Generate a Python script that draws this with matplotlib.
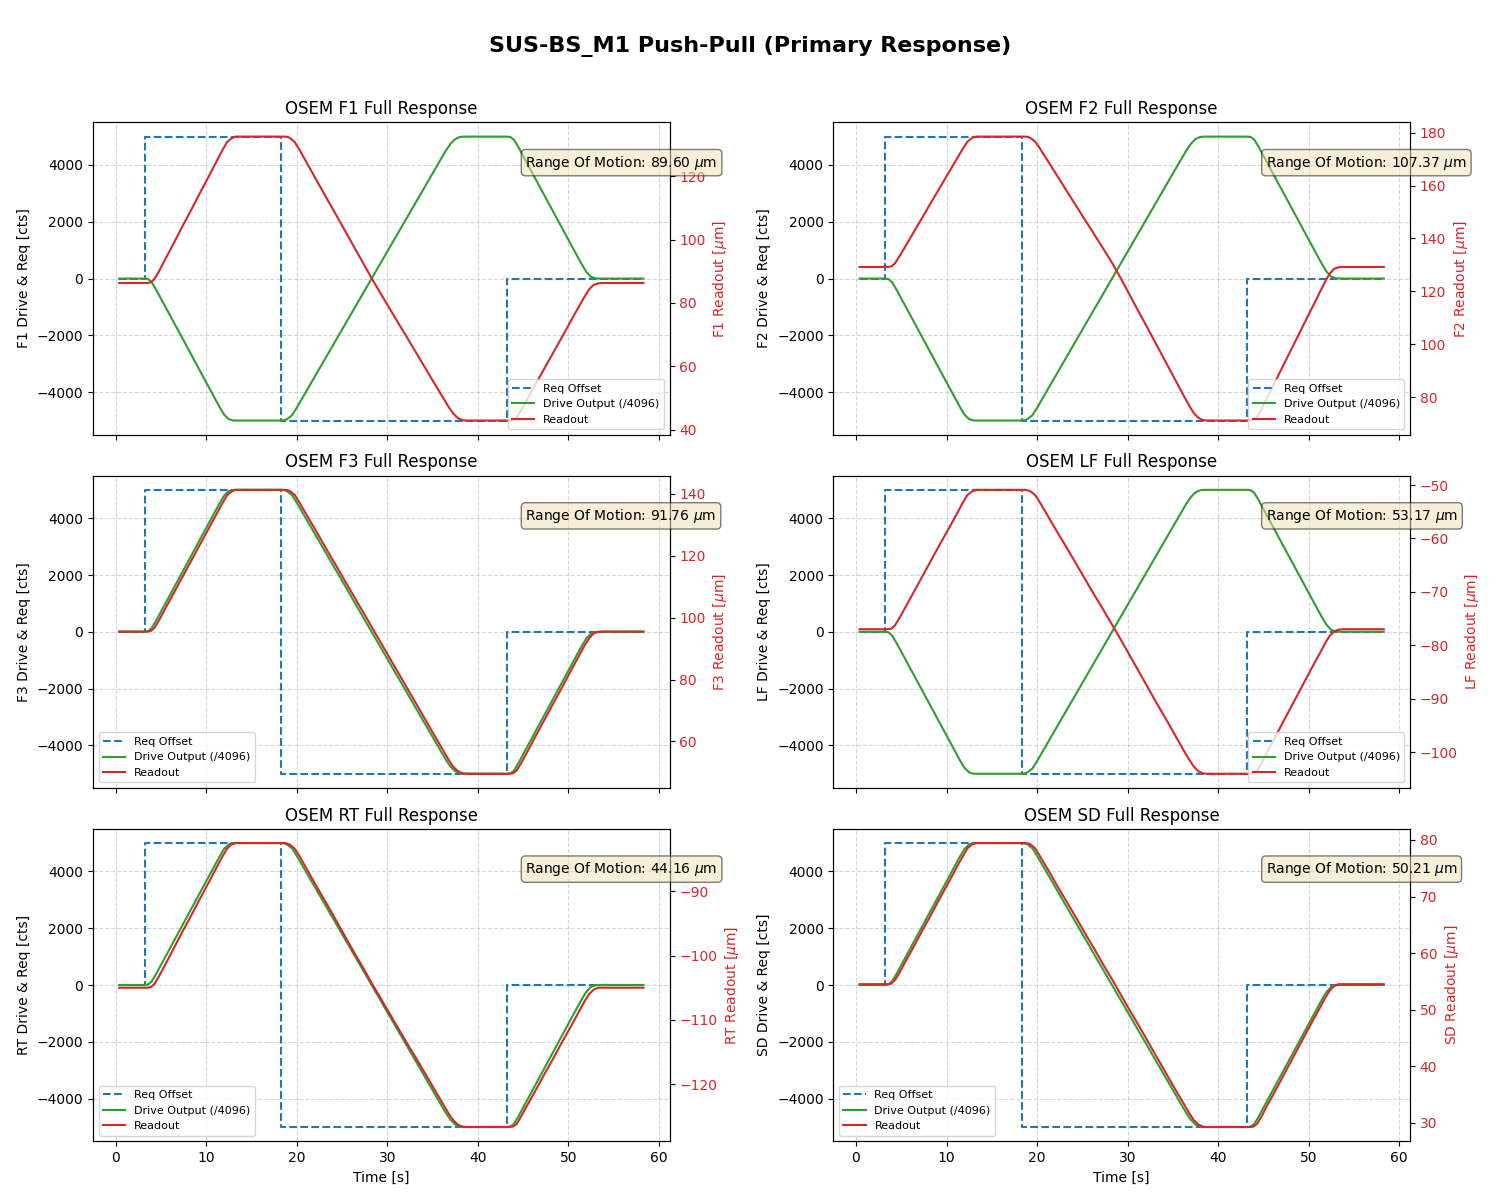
import matplotlib
matplotlib.use("Agg")
import matplotlib.pyplot as plt

# ---------------- data ----------------
osem_names = ["F1", "F2", "F3", "LF", "RT", "SD"]
drive_sign = [-1, -1, 1, -1, 1, 1]
rom_values = [89.60, 107.37, 91.76, 53.17, 44.16, 50.21]
legend_locs = ["lower right", "lower right", "lower left",
               "lower right", "lower left", "lower left"]

req_time = [0.4, 3.2, 18.3, 43.2, 58.3]
req_value = [0, 5000, -5000, 0, 0]

drive_time = [0.4, 3.2, 3.6, 4.0, 4.5, 5.0, 6.0, 7.0, 8.0, 9.0, 10.0, 11.0, 11.5, 12.0, 12.5, 13.0,
              18.3, 18.7, 19.0, 19.5, 20.0,
              21, 22, 23, 24, 25, 26, 27, 28, 29, 30, 31, 32, 33, 34, 35, 36,
              36.5, 37.0, 37.5, 38.0, 38.5,
              43.2, 43.6, 44.0, 44.5, 45.0,
              46, 47, 48, 49, 50, 51,
              51.5, 52.0, 52.5, 53.0, 53.5, 58.3]
drive_profile = [0, 0, 20, 135, 405, 700, 1290, 1880, 2470, 3060, 3650, 4240, 4535, 4800, 4950, 5000,
                 5000, 4985, 4940, 4810, 4555,
                 4005, 3455, 2905, 2355, 1805, 1255, 705, 155, -395, -945, -1495, -2045, -2595, -3145, -3695, -4245,
                 -4515, -4750, -4910, -4985, -5000,
                 -5000, -4985, -4890, -4625, -4325,
                 -3735, -3145, -2555, -1965, -1375, -785,
                 -495, -235, -65, -10, 0, 0]

readout_time = [0.4, 3.5, 3.9, 4.3, 4.8, 5.3, 6.3, 7.3, 8.3, 9.3, 10.3, 11.3, 11.8, 12.3, 12.8, 13.3,
                18.6, 19.0, 19.3, 19.8, 20.3,
                21.3, 22.3, 23.3, 24.3, 25.3, 26.3, 27.3, 28.3, 29.3, 30.3, 31.3, 32.3, 33.3, 34.3, 35.3, 36.3,
                36.8, 37.3, 37.8, 38.3, 38.8,
                43.5, 43.9, 44.3, 44.8, 45.3,
                46.3, 47.3, 48.3, 49.3, 50.3, 51.3,
                51.8, 52.3, 52.8, 53.3, 53.8, 58.3]

readout_F1 = [86.3, 86.3, 86.5, 87.6, 90.0, 92.8, 98.2, 103.7, 109.1, 114.6, 120.0, 125.5, 128.2, 130.7, 132.0, 132.5,
              132.5, 132.4, 132.0, 130.7, 128.4,
              123.3, 118.2, 113.1, 108.1, 103.0, 97.9, 92.8, 87.7, 82.9, 78.1, 73.3, 68.6, 63.8, 59.0, 54.2, 49.5,
              47.1, 45.1, 43.7, 43.0, 42.9,
              42.9, 43.0, 43.9, 46.2, 48.8,
              53.9, 59.0, 64.1, 69.2, 74.4, 79.5,
              82.0, 84.3, 85.7, 86.2, 86.3, 86.3]
readout_F2 = [129.2, 129.2, 129.4, 130.5, 133.2, 136.1, 141.9, 147.7, 153.6, 159.4, 165.2, 171.0, 173.9, 176.5, 178.0, 178.5,
              178.5, 178.4, 177.9, 176.6, 174.1,
              168.7, 163.3, 157.8, 152.4, 147.0, 141.6, 136.2, 130.7, 124.6, 118.2, 111.8, 105.5, 99.1, 92.7, 86.3, 79.9,
              76.8, 74.0, 72.2, 71.3, 71.13,
              71.13, 71.3, 72.4, 75.5, 79.0,
              85.8, 92.7, 99.5, 106.4, 113.2, 120.1,
              123.5, 126.5, 128.5, 129.1, 129.2, 129.2]
readout_F3 = [95.5, 95.5, 95.7, 96.7, 99.2, 101.9, 107.3, 112.7, 118.1, 123.5, 128.9, 134.3, 137.0, 139.5, 140.8, 141.3,
              141.3, 141.2, 140.8, 139.6, 137.2,
              132.2, 127.2, 122.1, 117.1, 112.0, 107.0, 102.0, 96.9, 91.9, 86.8, 81.8, 76.7, 71.7, 66.6, 61.5, 56.5,
              54.0, 51.8, 50.4, 49.7, 49.54,
              49.54, 49.7, 50.6, 53.0, 55.7,
              61.2, 66.6, 72.0, 77.4, 82.9, 88.3,
              91.0, 93.3, 94.9, 95.4, 95.5, 95.5]
readout_LF = [-77.0, -77.0, -76.9, -76.3, -74.9, -73.4, -70.3, -67.2, -64.1, -61.0, -58.0, -54.9, -53.3, -51.9, -51.2, -50.9,
              -50.9, -51.0, -51.2, -51.9, -53.2,
              -56.1, -59.0, -61.8, -64.7, -67.6, -70.5, -73.3, -76.2, -79.1, -82.1, -85.1, -88.1, -91.1, -94.0, -97.0, -100.0,
              -101.4, -102.7, -103.6, -104.0, -104.07,
              -104.07, -104.0, -103.5, -102.0, -100.4,
              -97.2, -94.0, -90.8, -87.6, -84.4, -81.3,
              -79.7, -78.3, -77.4, -77.1, -77.0, -77.0]
readout_RT = [-105.0, -105.0, -104.9, -104.4, -103.2, -101.9, -99.2, -96.5, -93.9, -91.2, -88.6, -85.9, -84.6, -83.4, -82.7, -82.5,
              -82.5, -82.6, -82.8, -83.4, -84.5,
              -87.0, -89.5, -91.9, -94.4, -96.9, -99.4, -101.8, -104.3, -106.7, -109.1, -111.5, -113.9, -116.2, -118.6, -121.0, -123.4,
              -124.6, -125.6, -126.3, -126.6, -126.66,
              -126.66, -126.6, -126.2, -125.0, -123.7,
              -121.2, -118.6, -116.1, -113.5, -111.0, -108.4,
              -107.1, -106.0, -105.3, -105.0, -105.0, -105.0]
readout_SD = [54.5, 54.5, 54.6, 55.2, 56.5, 58.0, 60.9, 63.9, 66.8, 69.8, 72.7, 75.7, 77.1, 78.5, 79.2, 79.45,
              79.45, 79.4, 79.2, 78.5, 77.2,
              74.5, 71.7, 69.0, 66.3, 63.5, 60.8, 58.0, 55.3, 52.5, 49.7, 47.0, 44.2, 41.4, 38.6, 35.8, 33.1,
              31.7, 30.5, 29.7, 29.3, 29.24,
              29.24, 29.3, 29.8, 31.1, 32.7,
              35.6, 38.6, 41.6, 44.6, 47.6, 50.5,
              52.0, 53.3, 54.2, 54.5, 54.5, 54.5]
readouts = [readout_F1, readout_F2, readout_F3, readout_LF, readout_RT, readout_SD]

# ---------------- plot ----------------
fig, axes = plt.subplots(3, 2, figsize=(15, 12), dpi=100, sharex=True)
fig.subplots_adjust(left=0.062, right=0.94, top=0.898, bottom=0.049,
                    wspace=0.284, hspace=0.131)
fig.suptitle("SUS-BS_M1 Push-Pull (Primary Response)", fontsize=16,
             fontweight="bold", y=0.97)

for i, name in enumerate(osem_names):
    ax1 = axes.flat[i]
    l1, = ax1.plot(req_time, req_value, "--", color="tab:blue",
                   drawstyle="steps-post", label="Req Offset")
    drive = [drive_sign[i] * v for v in drive_profile]
    l2, = ax1.plot(drive_time, drive, "-", color="tab:green",
                   label="Drive Output (/4096)")
    ax1.set_ylabel(f"{name} Drive & Req [cts]")
    ax1.set_title(f"OSEM {name} Full Response")
    ax1.grid(True, linestyle="--", alpha=0.5)
    if i >= 4:
        ax1.set_xlabel("Time [s]")

    ax2 = ax1.twinx()
    l3, = ax2.plot(readout_time, readouts[i], "-", color="tab:red",
                   label="Readout")
    ax2.set_ylabel(f"{name} Readout [$\\mu$m]", color="tab:red")
    ax2.tick_params(axis="y", labelcolor="tab:red")

    ax2.legend([l1, l2, l3], [l1.get_label(), l2.get_label(), l3.get_label()],
               loc=legend_locs[i], fontsize=8)
    ax2.text(0.75, 0.9, f"Range Of Motion: {rom_values[i]:.2f} $\\mu$m",
             transform=ax2.transAxes, fontsize=10, va="top",
             bbox=dict(boxstyle="round", facecolor="wheat", alpha=0.5))

fig.savefig("out.png", dpi=100)
